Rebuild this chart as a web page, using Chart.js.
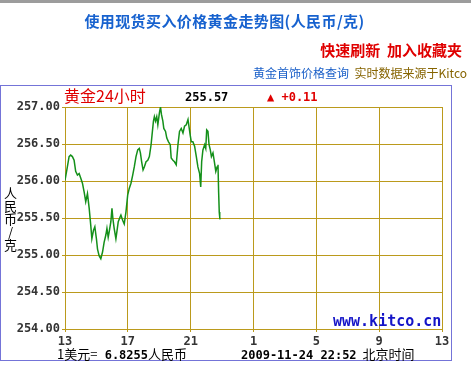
<!DOCTYPE html>
<html>
<head>
<meta charset="utf-8">
<script src="https://cdn.jsdelivr.net/npm/chart.js@4/dist/chart.umd.min.js"></script>
<style>
  html, body { margin: 0; padding: 0; background: #fff; }
  #wrap { position: relative; width: 471px; height: 369px; overflow: hidden; background: #fff; }
  #wrap canvas { position: absolute; left: 0; top: 0; }
  .t { position: absolute; white-space: nowrap; font-family: "Noto Sans CJK SC", "DejaVu Sans", sans-serif; }
  .mono { font-family: "DejaVu Sans Mono", "Liberation Mono", monospace; font-weight: bold; }
  #topbar { position: absolute; left: 0; top: 0; width: 471px; height: 3px; background: #9c9c9c; }
  #frame { position: absolute; left: 0; top: 85px; width: 450px; height: 274px; border: 1px solid #7474d8; }
</style>
</head>
<body>
<div id="wrap">
  <div id="topbar"></div>
  <div id="frame"></div>
  <canvas id="c" width="471" height="369"></canvas>

  <div class="t" style="left:0;width:449px;text-align:center;top:11px;line-height:20px;font-size:15px;letter-spacing:0.4px;font-weight:bold;color:#1762cf;">使用现货买入价格黄金走势图(人民币/克)</div>
  <div class="t" style="right:9px;top:41px;line-height:18px;font-size:15px;font-weight:bold;color:#e00000;">快速刷新&nbsp;&nbsp;加入收藏夹</div>
  <div class="t" style="right:4px;top:65px;line-height:16px;font-size:12px;"><span style="color:#1a5fc8;">黄金首饰价格查询</span>&nbsp;&nbsp;<span style="color:#866400;">实时数据来源于Kitco</span></div>

  <div class="t" style="left:64px;top:85px;line-height:20px;font-size:16px;color:#e00000;">黄金24小时</div>
  <div class="t mono" style="left:185px;top:89px;line-height:16px;font-size:12px;color:#000;">255.57</div>
  <div class="t mono" style="left:267px;top:89px;line-height:16px;font-size:12px;color:#e00000;">▲ +0.11</div>

  <div class="t" style="left:3px;top:187px;font-size:13px;line-height:14px;color:#000;writing-mode:vertical-rl;text-orientation:upright;">人民币/克</div>

  <div class="t mono" style="left:333px;top:312px;line-height:18px;font-size:15px;color:#1414c8;">www.kitco.cn</div>

  <div class="t" style="left:57px;top:346px;line-height:16px;font-size:13px;color:#000;">1美元=<span class="mono" style="font-size:12px;"> 6.8255</span>人民币</div>
  <div class="t" style="left:241px;top:346px;line-height:16px;font-size:13px;color:#000;"><span class="mono" style="font-size:12px;">2009-11-24 22:52</span>&nbsp;&nbsp;北京时间</div>
</div>
<script>
// clock hours (13.00 = 13:00)
const times = [13.00,13.15,13.26,13.36,13.47,13.58,13.68,13.79,13.90,14.00,14.11,14.22,14.32,14.43,14.54,14.64,14.71,14.81,14.90,15.00,15.07,15.17,15.28,15.39,15.49,15.60,15.67,15.75,15.81,15.92,15.99,16.05,16.13,16.24,16.30,16.39,16.50,16.56,16.67,16.77,16.88,16.99,17.09,17.20,17.31,17.41,17.52,17.63,17.73,17.80,17.88,17.97,18.05,18.16,18.27,18.37,18.48,18.54,18.63,18.69,18.76,18.84,18.91,19.01,19.08,19.14,19.23,19.29,19.40,19.48,19.59,19.70,19.76,19.87,19.97,20.08,20.19,20.29,20.40,20.51,20.61,20.72,20.83,20.89,20.97,21.04,21.14,21.25,21.36,21.46,21.57,21.64,21.70,21.78,21.89,21.96,22.02,22.10,22.17,22.25,22.32,22.42,22.51,22.60,22.68,22.74,22.78,22.82,22.85,22.87];
const prices = [256.01,256.19,256.33,256.35,256.33,256.28,256.13,256.08,256.10,256.04,255.97,255.85,255.72,255.83,255.63,255.40,255.22,255.33,255.38,255.22,255.08,254.99,254.95,255.04,255.17,255.27,255.36,255.24,255.31,255.45,255.63,255.49,255.36,255.22,255.31,255.45,255.51,255.54,255.47,255.42,255.58,255.81,255.90,255.97,256.08,256.19,256.33,256.42,256.44,256.38,256.26,256.15,256.19,256.26,256.28,256.33,256.49,256.62,256.81,256.87,256.81,256.87,256.76,256.92,257.00,256.90,256.81,256.71,256.67,256.58,256.53,256.49,256.31,256.28,256.26,256.22,256.49,256.67,256.71,256.65,256.74,256.76,256.83,256.74,256.62,256.53,256.53,256.47,256.33,256.19,256.10,255.92,256.26,256.42,256.49,256.44,256.69,256.67,256.49,256.42,256.33,256.38,256.26,256.13,256.19,256.22,255.85,255.58,255.51,255.48];
const xTicks = [13, 17, 21, 1, 5, 9, 13];
const yMin = 254, yMax = 257, yStep = 0.5;

const GOLD = '#bb9a1c';
const tickFont = { family: 'DejaVu Sans Mono', size: 12, weight: 'bold' };

new Chart(document.getElementById('c'), {
  type: 'line',
  data: {
    datasets: [{
      data: times.map((t, i) => ({ x: t, y: prices[i] })),
      borderColor: '#14901a',
      borderWidth: 1.5,
      pointRadius: 0,
      tension: 0,
      fill: false
    }]
  },
  options: {
    responsive: false,
    animation: false,
    devicePixelRatio: 1,
    layout: { padding: { left: 0, top: 107, right: 29, bottom: 0 } },
    plugins: { legend: { display: false }, tooltip: { enabled: false } },
    scales: {
      x: {
        type: 'linear',
        min: 13, max: 37,
        afterFit: s => { s.height = 40; },
        afterBuildTicks: s => { s.ticks = xTicks.map((_, i) => ({ value: 13 + i * 4 })); },
        ticks: {
          font: tickFont, color: '#333', padding: 3, maxRotation: 0, autoSkip: false,
          callback: (v, i) => String(xTicks[i])
        },
        grid: { color: GOLD, lineWidth: 1, tickLength: 3, tickColor: GOLD },
        border: { color: GOLD, width: 1 }
      },
      y: {
        min: yMin, max: yMax,
        afterFit: s => { s.width = 65; },
        ticks: {
          stepSize: yStep, font: tickFont, color: '#333', padding: 2,
          callback: v => Number(v).toFixed(2)
        },
        grid: { color: GOLD, lineWidth: 1, tickLength: 3, tickColor: GOLD },
        border: { color: GOLD, width: 1 }
      }
    }
  }
});
</script>
</body>
</html>
